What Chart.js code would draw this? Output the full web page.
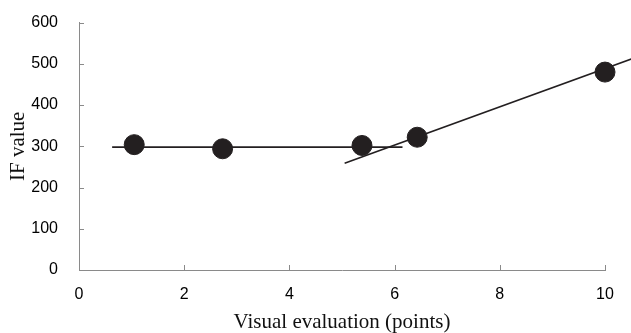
<!DOCTYPE html>
<html>
<head>
<meta charset="utf-8">
<script src="https://cdn.jsdelivr.net/npm/chart.js@4.4.1/dist/chart.umd.min.js"></script>
<style>
  html, body { margin: 0; padding: 0; background: #fff; }
  #wrap { width: 631px; height: 333px; }
</style>
</head>
<body>
<div id="wrap"><canvas id="chart"></canvas></div>
<script>
// measured points
const evalX = [1.05, 2.73, 5.38, 6.43, 10.0];
const ifY = [304, 294, 302, 322, 480];

// fitted lines (end points)
const flatLineX = [0.63, 6.15];
const flatLineY = [298, 298];
const riseLineX = [5.05, 10.51];
const riseLineY = [259, 512];

const xTicks = [0, 2, 4, 6, 8, 10];
const yTicks = [0, 100, 200, 300, 400, 500, 600];

const toXY = (xs, ys) => xs.map((x, i) => ({ x: x, y: ys[i] }));

// draw short ticks pointing inward, like the original figure
const innerTicks = {
    id: 'innerTicks',
    afterDraw(chart) {
        const ctx = chart.ctx;
        const xs = chart.scales.x;
        const ys = chart.scales.y;
        const area = chart.chartArea;
        ctx.save();
        ctx.strokeStyle = '#8a8a8a';
        ctx.lineWidth = 1;
        ctx.beginPath();
        xTicks.forEach(v => {
            if (v === 0) return;
            const px = Math.round(xs.getPixelForValue(v)) + 0.5;
            ctx.moveTo(px, area.bottom);
            ctx.lineTo(px, area.bottom - 5);
        });
        yTicks.forEach(v => {
            if (v === 0) return;
            const py = Math.round(ys.getPixelForValue(v)) + 0.5;
            ctx.moveTo(area.left, py);
            ctx.lineTo(area.left + 5, py);
        });
        ctx.stroke();
        ctx.restore();
    }
};

const ctx = document.getElementById('chart').getContext('2d');
new Chart(ctx, {
    type: 'scatter',
    data: {
        datasets: [
            {
                data: toXY(evalX, ifY),
                backgroundColor: '#231f20',
                borderColor: '#231f20',
                pointRadius: 10,
                pointHoverRadius: 10,
                clip: false,
                order: 0
            },
            {
                type: 'line',
                data: toXY(flatLineX, flatLineY),
                borderColor: '#231f20',
                borderWidth: 1.6,
                pointRadius: 0,
                fill: false,
                order: 1
            },
            {
                type: 'line',
                data: toXY(riseLineX, riseLineY),
                borderColor: '#231f20',
                borderWidth: 1.6,
                pointRadius: 0,
                fill: false,
                clip: false,
                order: 1
            }
        ]
    },
    options: {
        responsive: true,
        maintainAspectRatio: false,
        animation: false,
        events: [],
        layout: {
            padding: { top: 20, right: 26, bottom: 0, left: 0 }
        },
        plugins: {
            legend: { display: false },
            tooltip: { enabled: false }
        },
        scales: {
            x: {
                type: 'linear',
                min: 0,
                max: 10,
                afterFit: (scale) => { scale.height = 63; },
                afterBuildTicks: (scale) => { scale.ticks = xTicks.map(v => ({ value: v })); },
                border: { display: true, color: '#8a8a8a', width: 1 },
                grid: { display: false },
                ticks: {
                    color: '#000',
                    padding: 7,
                    maxRotation: 0,
                    font: { family: 'Liberation Sans, Arial, sans-serif', size: 16 }
                },
                title: {
                    display: true,
                    text: 'Visual evaluation (points)',
                    color: '#111',
                    padding: { top: 0, bottom: 0 },
                    font: { family: 'Liberation Serif, Times New Roman, serif', size: 21, lineHeight: 1.0 }
                }
            },
            y: {
                type: 'linear',
                min: 0,
                max: 600,
                afterFit: (scale) => { scale.width = 79; },
                afterBuildTicks: (scale) => { scale.ticks = yTicks.map(v => ({ value: v })); },
                border: { display: true, color: '#8a8a8a', width: 1 },
                grid: { display: false },
                ticks: {
                    color: '#000',
                    padding: 13,
                    font: { family: 'Liberation Sans, Arial, sans-serif', size: 16 }
                },
                title: {
                    display: true,
                    text: 'IF value',
                    color: '#111',
                    padding: { top: 6, bottom: 0 },
                    font: { family: 'Liberation Serif, Times New Roman, serif', size: 21 }
                }
            }
        }
    },
    plugins: [innerTicks]
});
</script>
</body>
</html>
